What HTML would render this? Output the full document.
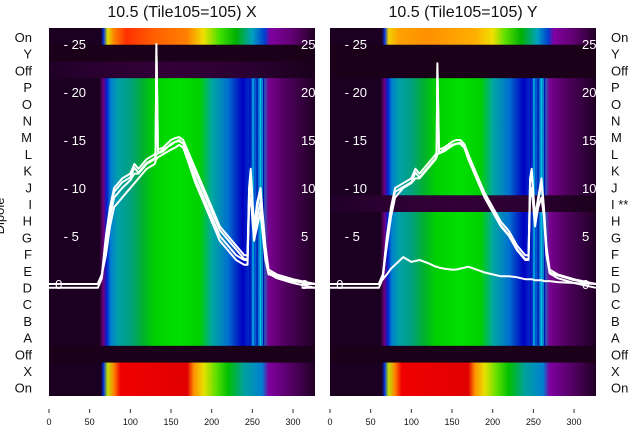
<!DOCTYPE html>
<html><head><meta charset="utf-8"><style>
body{margin:0;background:#fff;}
svg text{font-family:"Liberation Sans",sans-serif;}
</style></head><body>
<svg id="c" width="640" height="440" viewBox="0 0 640 440" xmlns="http://www.w3.org/2000/svg">
<defs id="defs"></defs>
</svg>
<script>
const rowLabels=["On","Y","Off","P","O","N","M","L","K","J","I","H","G","F","E","D","C","B","A","Off","X","On"];
const xTicks=[0,50,100,150,200,250,300];
const yTicks=[0,5,10,15,20,25];
const curveX=[-35,60,65,70,75,80,90,100,105,110,120,130,131,132,134,140,150,155,160,165,170,180,190,200,210,220,230,240,244,246,248,252,256,260,263,266,270,280,300,327];
const leftA=[0,0,1,5,8,10,11,11.5,12.5,12,13,13.5,13.8,25,14,14.2,15,15.2,15.3,15,14,12,10,8,6,5,4,3,3,10,12,6,8.5,10,7,4,1.5,1,0.5,0];
const leftB=[0,0,1,4,7,9,10,10.8,11.5,11.5,12.5,13,13.2,13.5,13.6,14,14.5,14.8,15,14.6,13.5,11,9,7,5,4,3,2.5,2.5,9,10.5,5,7,8.5,6,3,1.2,0.9,0.4,0];
const leftC=[0,0,1,3,6,8,9,10,10.5,11,12,12.5,12.8,13,13.2,13.5,14,14.2,14.5,14.2,13,10.5,8.5,6.5,4.5,3.5,2.5,2,2,8,9,4.5,6,7.5,5,2.5,1,0.8,0.3,0];
const rightA=[0,0,1,5,8,10,10.5,11,12,11.5,12.5,13.5,13.8,23,14,14.2,14.8,15,15,14.6,13.5,11.5,9.5,8,6.5,5.5,4,3,3,11,12,7,9,11,8,4,1.5,1,0.5,0];
const rightB=[0,0,1,4,7,9,10,10.5,11,11,12,13,13.2,13.5,13.6,14,14.5,14.6,14.7,14.3,13,11,9,7.5,6,5,3.5,2.5,2.5,9,10,6,8,9,7,3,1.2,0.9,0.4,0];
const rightLow=[0,0,0.5,1,1.6,2,2.8,2.3,2.4,2.5,2.2,1.8,1.8,1.8,1.7,1.6,1.5,1.5,1.6,1.7,1.8,1.5,1.2,1,0.8,0.8,0.7,0.5,0.5,0.5,0.5,0.4,0.4,0.4,0.3,0.3,0.3,0.2,0.1,0];

const NS="http://www.w3.org/2000/svg";
const svg=document.getElementById('c'),defs=document.getElementById('defs');
function mk(t,a,p){const e=document.createElementNS(NS,t);for(const k in a)e.setAttribute(k,a[k]);(p||svg).appendChild(e);return e;}
const PX=[49,330],PW=266,T=28,B=396,RH=(B-T)/22;
const XMAX=327;
function xs(p,v){return PX[p]+v/XMAX*PW;}
function ys(v){return 284-v*9.6;}
const gNorm=[[0,'#1c0022'],[62,'#1c0022'],[67,'#700080'],[71,'#0020d0'],[76,'#0080d0'],[85,'#00a0a8'],[100,'#00a080'],[115,'#00b030'],[130,'#00d000'],[160,'#00e000'],[185,'#00d000'],[200,'#00a8a0'],[220,'#0070d0'],[238,'#0000c0'],[250,'#0040d0'],[262,'#0090d0'],[270,'#7a0090'],[290,'#500060'],[327,'#200024']];
const gOnB=[[0,'#1c0022'],[64,'#1c0022'],[67,'#0030e0'],[72,'#c0e000'],[80,'#ff8000'],[88,'#f00000'],[170,'#e00000'],[178,'#ff9000'],[190,'#e8e000'],[205,'#60e000'],[220,'#00c000'],[240,'#00a0a0'],[262,'#0080d0'],[270,'#8000a0'],[300,'#500060'],[327,'#200024']];
const gOnTL=[[0,'#1c0022'],[64,'#1c0022'],[67,'#0030e0'],[72,'#e0e000'],[80,'#ff8000'],[95,'#ff3000'],[130,'#ff6000'],[170,'#ff8000'],[190,'#f0e000'],[210,'#40e000'],[230,'#00b000'],[250,'#00a0c0'],[265,'#0040d0'],[272,'#8000a0'],[300,'#600070'],[327,'#200024']];
const gOnTR=[[0,'#1c0022'],[64,'#1c0022'],[67,'#0030e0'],[72,'#f0d000'],[85,'#ffa000'],[120,'#ff9000'],[180,'#ffb000'],[200,'#f0e000'],[215,'#60e000'],[235,'#00b000'],[255,'#00a0c0'],[268,'#0040d0'],[275,'#8000a0'],[300,'#600070'],[327,'#200024']];
const gDark=[[0,'#1a0018'],[327,'#1a0018']];
const gOff=[[0,'#200028'],[60,'#2a0030'],[150,'#330038'],[250,'#2a0030'],[327,'#1a001c']];
const grads={norm:gNorm,onb:gOnB,ontl:gOnTL,ontr:gOnTR,dark:gDark,off:gOff};
for(const k in grads){const lg=mk('linearGradient',{id:'g'+k,x1:0,x2:1,y1:0,y2:0},defs);grads[k].forEach(s=>mk('stop',{offset:(s[0]/XMAX*100)+'%','stop-color':s[1]},lg));}
function rowType(p,i){if(i===0)return p?'ontr':'ontl';if(i===1)return 'dark';if(i===2)return p?'dark':'off';if(i===19)return 'dark';if(i===20||i===21)return 'onb';if(p===1&&i===10)return 'off';return 'norm';}
const titles=["10.5 (Tile105=105) X","10.5 (Tile105=105) Y"];
const series=[[leftA,leftB,leftC,leftA],[rightA,rightB,rightLow,rightA]];
for(let p=0;p<2;p++){
 const g=mk('g',{});
 
 
 const cp=mk('clipPath',{id:'cp'+p},defs);mk('rect',{x:PX[p],y:T,width:PW,height:B-T},cp);
 const hm=mk('g',{'clip-path':'url(#cp'+p+')'},g);
 for(let i=0;i<22;i++){
  const r=mk('rect',{x:PX[p],y:(T+i*RH).toFixed(2),width:PW,height:(RH+0.6).toFixed(2),fill:'url(#g'+rowType(p,i)+')'},hm);
  
  
 }
 [246,250,255,259,263].forEach((v,j)=>{
  for(let i=3;i<19;i++){ if(p===1&&i===10)continue;
   mk('rect',{x:xs(p,v),y:T+i*RH,width:1.3,height:RH,fill:j%2?'#00c0e0':'#0010b0'},hm);}
 });
 yTicks.forEach(v=>{const t=mk('text',{x:xs(p,v===0?12:18),y:ys(v)+5,fill:'#fff','font-size':13,'text-anchor':v===0?'middle':'start'},g);t.textContent=v===0?'0':'- '+v;
  
  const t2=mk('text',{x:PX[p]+PW-14,y:ys(v)+5,fill:'#fff','font-size':13},hm);t2.textContent=v;});
 const cpl=mk('clipPath',{id:'cl'+p},defs);mk('rect',{x:PX[p]-30,y:T,width:PW+33,height:B-T},cpl);
 const lg=mk('g',{'clip-path':'url(#cl'+p+')'},g);
 series[p].forEach((s,k)=>{let d='';s.forEach((v,j)=>{d+=(j?'L':'M')+xs(p,curveX[j]).toFixed(1)+','+ys(v+(k===3?-0.4:0)).toFixed(1);});
  const pa=mk('path',{d:d,fill:'none',stroke:'#fff','stroke-width':2,'stroke-linejoin':'round'},lg);
  });
 const tt=mk('text',{x:PX[p]+PW/2,y:17,'font-size':16,'text-anchor':'middle',fill:'#111'},g);tt.textContent=titles[p];
 
 xTicks.forEach(v=>{mk('line',{x1:xs(p,v),x2:xs(p,v),y1:409,y2:413,stroke:'#333'},g);const t=mk('text',{x:xs(p,v),y:425,'font-size':9,'text-anchor':'middle',fill:'#111'},g);t.textContent=v;
  });
 rowLabels.forEach((l,i)=>{let lab=l;if(p===1&&i===10)lab='I **';
  const t=mk('text',{x:p?611:32,y:(42+i*16.7).toFixed(1),'font-size':13,'text-anchor':p?'start':'end',fill:'#111'},g);
  t.textContent=lab;});
}
const yl=mk('text',{x:4,y:216,'font-size':13,'text-anchor':'middle',transform:'rotate(-90 4 216)',fill:'#111'});yl.textContent='Dipole';

</script>
</body></html>
